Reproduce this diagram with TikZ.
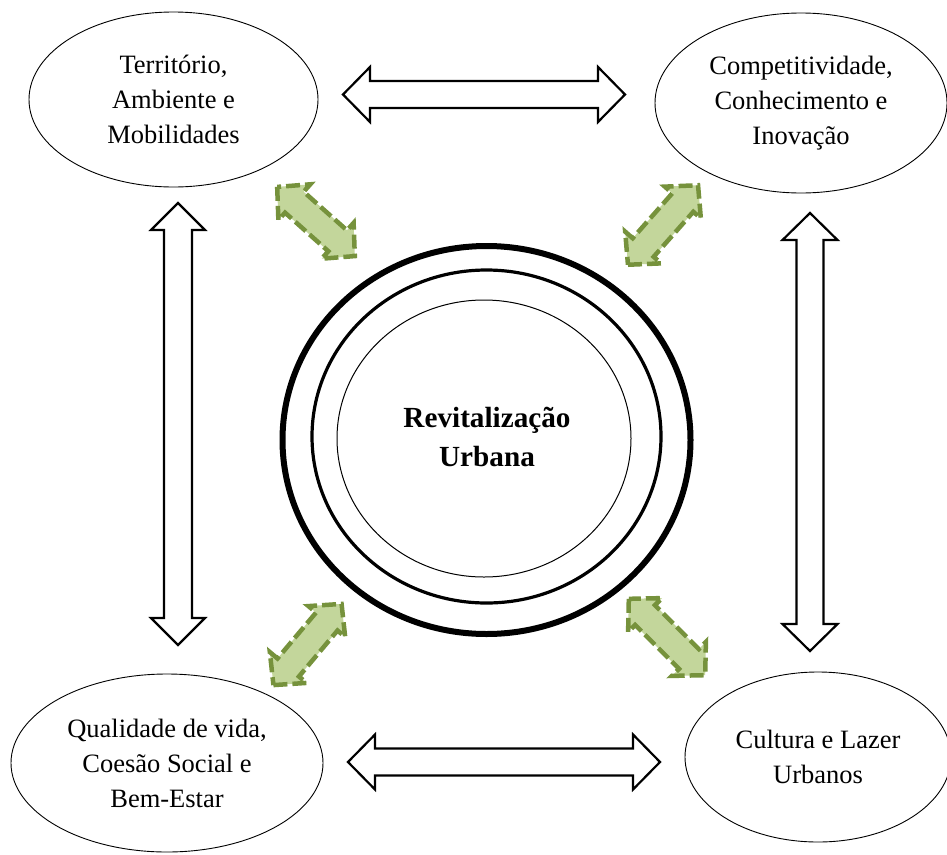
\documentclass[tikz,border=0pt]{standalone}
\usepackage{fontspec}
\setmainfont{Liberation Serif}
\usetikzlibrary{shapes.geometric}
\definecolor{gfill}{RGB}{195,214,155}
\definecolor{gline}{RGB}{118,146,60}
% #1 style, #2 centre, #3 angle, #4 half length, #5 head length, #6 head half width, #7 shaft half width
\newcommand{\DblArrow}[7]{\draw[#1,shift={#2},rotate=#3] (-#4,0) -- ({-#4+#5},#6) -- ({-#4+#5},#7) -- ({#4-#5},#7) -- ({#4-#5},#6) -- (#4,0) -- ({#4-#5},-#6) -- ({#4-#5},-#7) -- ({-#4+#5},-#7) -- ({-#4+#5},-#6) -- cycle;}
\begin{document}
\begin{tikzpicture}[x=1pt,y=-1pt,
  txt/.style={font=\fontsize{26.5}{35}\selectfont, align=center},
  ell/.style={ellipse, draw, line width=0.9pt, inner sep=0pt, txt},
  ring/.style={ellipse, draw, inner sep=0pt},
  blk/.style={draw=black, fill=white, line width=2.2pt, line join=miter},
  grn/.style={draw=gline, fill=gfill, line width=4.5pt, dash pattern=on 14pt off 5pt, line join=miter}]
\useasboundingbox (0,0) rectangle (947,854);
% outer ellipses
\node[ell, minimum width=289pt, minimum height=175pt] (tl) at (173.5,99.5) {Território,\\Ambiente e\\Mobilidades};
\node[ell, minimum width=292pt, minimum height=180pt] (tr) at (801,103) {Competitividade,\\Conhecimento e\\Inovação};
\node[ell, minimum width=312pt, minimum height=178pt] (bl) at (167,763) {Qualidade de vida,\\Coesão Social e\\Bem-Estar};
\node[ell, minimum width=266pt, minimum height=170pt] (br) at (818,757) {Cultura e Lazer\\Urbanos};
% central rings
\node[ring, line width=6pt, minimum width=408pt, minimum height=388pt] (outer) at (486.5,440) {};
\node[ring, line width=3.2pt, minimum width=349pt, minimum height=333pt] (middle) at (486.5,436.5) {};
\node[ring, line width=1pt, minimum width=294pt, minimum height=277pt] (inner) at (484,438.5) {};
\node[font=\bfseries\fontsize{29.2}{39}\selectfont, align=center] (rev) at (487,437) {Revitalização\\Urbana};
% black block arrows
\DblArrow{blk}{(484,94.5)}{0}{141}{27}{27.5}{13.5}
\DblArrow{blk}{(504,762)}{0}{156}{27}{27.5}{13.5}
\DblArrow{blk}{(178,424)}{90}{221}{27}{27}{14}
\DblArrow{blk}{(810,432)}{90}{219}{27}{27.5}{13.5}
% green arrows
\DblArrow{grn}{(316,221.5)}{-41.7}{52}{23}{24}{14}
\DblArrow{grn}{(663,225)}{48.6}{53}{23}{24}{14}
\DblArrow{grn}{(307.5,644.5)}{50}{53}{23}{24}{14}
\DblArrow{grn}{(667,637)}{-45}{54}{23}{24}{14}
\end{tikzpicture}
\end{document}
